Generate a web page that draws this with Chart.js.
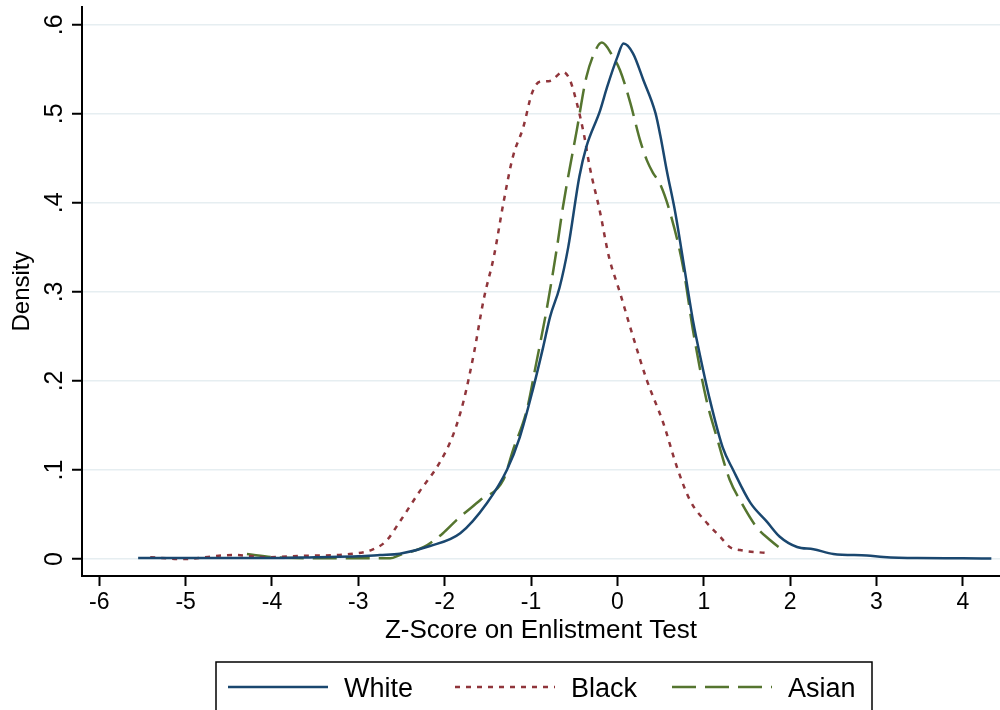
<!DOCTYPE html>
<html>
<head>
<meta charset="utf-8">
<script src="https://cdn.jsdelivr.net/npm/chart.js@4.4.1/dist/chart.umd.min.js"></script>
<style>
  html, body { margin: 0; padding: 0; background: #fff; }
  #wrap { width: 1000px; height: 710px; }
</style>
</head>
<body>
<div id="wrap"><canvas id="myChart"></canvas></div>
<script>
// kernel density curves
const whiteX = [-5.55, -4.5, -4.0, -3.5, -3.0, -2.75, -2.52, -2.17, -1.82, -1.51, -1.28, -1.13, -0.98, -0.86, -0.78, -0.67, -0.57, -0.44, -0.36, -0.20, -0.12, 0.0, 0.07, 0.18, 0.30, 0.44, 0.50, 0.57, 0.67, 0.76, 0.88, 0.96, 1.07, 1.22, 1.34, 1.54, 1.73, 1.88, 2.08, 2.27, 2.50, 2.89, 3.08, 3.47, 4.00, 4.33];
const whiteY = [0.001, 0.001, 0.001, 0.002, 0.003, 0.0045, 0.006, 0.0146, 0.029, 0.063, 0.10, 0.137, 0.19, 0.238, 0.272, 0.305, 0.35, 0.43, 0.463, 0.504, 0.530, 0.564, 0.579, 0.568, 0.538, 0.501, 0.474, 0.437, 0.389, 0.336, 0.265, 0.227, 0.179, 0.125, 0.10, 0.063, 0.042, 0.025, 0.0135, 0.011, 0.0056, 0.0039, 0.0022, 0.001, 0.0008, 0.0005];

const blackX = [-5.41, -5.03, -4.45, -4.06, -3.68, -3.10, -2.85, -2.68, -2.52, -2.29, -2.06, -1.90, -1.78, -1.66, -1.55, -1.43, -1.32, -1.21, -1.09, -0.99, -0.90, -0.78, -0.63, -0.55, -0.47, -0.39, -0.32, -0.20, -0.10, 0.03, 0.18, 0.34, 0.53, 0.69, 0.84, 1.04, 1.19, 1.30, 1.42, 1.73];
const blackY = [0.002, 0.0, 0.0045, 0.002, 0.0034, 0.0056, 0.010, 0.02, 0.042, 0.076, 0.108, 0.140, 0.178, 0.232, 0.291, 0.34, 0.40, 0.452, 0.485, 0.523, 0.536, 0.537, 0.547, 0.538, 0.512, 0.478, 0.44, 0.389, 0.34, 0.299, 0.25, 0.201, 0.153, 0.103, 0.066, 0.04, 0.025, 0.0135, 0.01, 0.0067];

const asianX = [-4.29, -3.98, -3.5, -3.0, -2.63, -2.52, -2.24, -2.02, -1.86, -1.59, -1.32, -1.21, -1.05, -0.94, -0.82, -0.70, -0.63, -0.47, -0.36, -0.24, -0.18, -0.05, 0.03, 0.15, 0.26, 0.34, 0.41, 0.49, 0.61, 0.76, 0.88, 1.03, 1.15, 1.30, 1.42, 1.61, 1.77, 1.94];
const asianY = [0.0056, 0.002, 0.0007, 0.0007, 0.0007, 0.0045, 0.0135, 0.029, 0.044, 0.066, 0.089, 0.122, 0.167, 0.22, 0.28, 0.35, 0.396, 0.482, 0.541, 0.574, 0.580, 0.564, 0.549, 0.512, 0.471, 0.448, 0.434, 0.422, 0.389, 0.328, 0.254, 0.179, 0.137, 0.089, 0.066, 0.036, 0.021, 0.008];

const seriesNames = ['White', 'Black', 'Asian'];
const xTicks = [-6, -5, -4, -3, -2, -1, 0, 1, 2, 3, 4];
const yTicks = [0, 0.1, 0.2, 0.3, 0.4, 0.5, 0.6];

const FONT = '"Liberation Sans", Arial, Helvetica, sans-serif';
const pts = (xs, ys) => xs.map((x, i) => ({ x: x, y: ys[i] }));
const fmtY = v => v === 0 ? '0' : '.' + Math.round(v * 10);

// y tick labels are turned on their side, so draw them ourselves
const yLabels = {
    id: 'yLabels',
    afterDraw(chart) {
        const { ctx } = chart;
        const y = chart.scales.y;
        ctx.save();
        ctx.font = '25px ' + FONT;
        ctx.fillStyle = '#000';
        ctx.textAlign = 'center';
        ctx.textBaseline = 'alphabetic';
        y.ticks.forEach(t => {
            ctx.save();
            ctx.translate(y.right - 20, y.getPixelForValue(t.value));
            ctx.rotate(-Math.PI / 2);
            ctx.fillText(fmtY(t.value), 0, 0);
            ctx.restore();
        });
        ctx.restore();
    }
};

// boxed legend under the axis title
const boxLegend = {
    id: 'boxLegend',
    afterDraw(chart) {
        const { ctx } = chart;
        const lineX = [228, 455, 672];
        ctx.save();
        ctx.strokeStyle = '#000';
        ctx.lineWidth = 1.5;
        ctx.strokeRect(216, 662, 656, 60);
        chart.data.datasets.forEach((ds, i) => {
            ctx.strokeStyle = ds.borderColor;
            ctx.lineWidth = ds.borderWidth;
            ctx.setLineDash(ds.borderDash || []);
            ctx.beginPath();
            ctx.moveTo(lineX[i], 687);
            ctx.lineTo(lineX[i] + 100, 687);
            ctx.stroke();
            ctx.setLineDash([]);
            ctx.fillStyle = '#000';
            ctx.font = '27px ' + FONT;
            ctx.textBaseline = 'alphabetic';
            ctx.fillText(ds.label, lineX[i] + 116, 697);
        });
        ctx.restore();
    }
};

const ctx = document.getElementById('myChart').getContext('2d');
new Chart(ctx, {
    type: 'scatter',
    data: {
        datasets: [{
            label: seriesNames[0],
            data: pts(whiteX, whiteY),
            borderColor: '#1a476f',
            borderWidth: 2.5,
        }, {
            label: seriesNames[1],
            data: pts(blackX, blackY),
            borderColor: '#90353b',
            borderWidth: 2.5,
            borderDash: [5, 6],
        }, {
            label: seriesNames[2],
            data: pts(asianX, asianY),
            borderColor: '#55752f',
            borderWidth: 2.5,
            borderDash: [24, 9],
        }]
    },
    options: {
        responsive: true,
        maintainAspectRatio: false,
        animation: false,
        showLine: true,
        layout: { padding: { top: 7, right: 0, bottom: 0, left: 0 } },
        elements: {
            point: { radius: 0, hoverRadius: 0 },
            line: { cubicInterpolationMode: 'monotone', fill: false },
        },
        scales: {
            x: {
                type: 'linear',
                min: -6.2,
                max: 4.43,
                afterBuildTicks: s => { s.ticks = xTicks.map(v => ({ value: v })); },
                afterFit: s => { s.height = 134; },
                grid: { drawOnChartArea: false, tickColor: '#000', tickLength: 10, tickWidth: 2 },
                border: { color: '#000', width: 2 },
                ticks: {
                    color: '#000',
                    font: { family: FONT, size: 23 },
                    padding: 3,
                    maxRotation: 0,
                    autoSkip: false,
                    callback: v => String(v),
                },
                title: {
                    display: true,
                    text: 'Z-Score on Enlistment Test',
                    color: '#000',
                    font: { family: FONT, size: 26 },
                    padding: { top: 0, bottom: 64 },
                },
            },
            y: {
                type: 'linear',
                min: -0.0191,
                max: 0.62,
                afterBuildTicks: s => { s.ticks = yTicks.map(v => ({ value: v })); },
                afterFit: s => { s.width = 82; },
                grid: { color: '#e6eef1', lineWidth: 1.5, tickColor: '#000', tickLength: 10, tickWidth: 2 },
                border: { color: '#000', width: 2 },
                ticks: { display: false },
                title: {
                    display: true,
                    text: 'Density',
                    color: '#000',
                    font: { family: FONT, size: 24 },
                    padding: { top: 8, bottom: 0 },
                },
            }
        },
        plugins: {
            legend: { display: false },
            tooltip: { enabled: false },
        }
    },
    plugins: [yLabels, boxLegend]
});
</script>
</body>
</html>
